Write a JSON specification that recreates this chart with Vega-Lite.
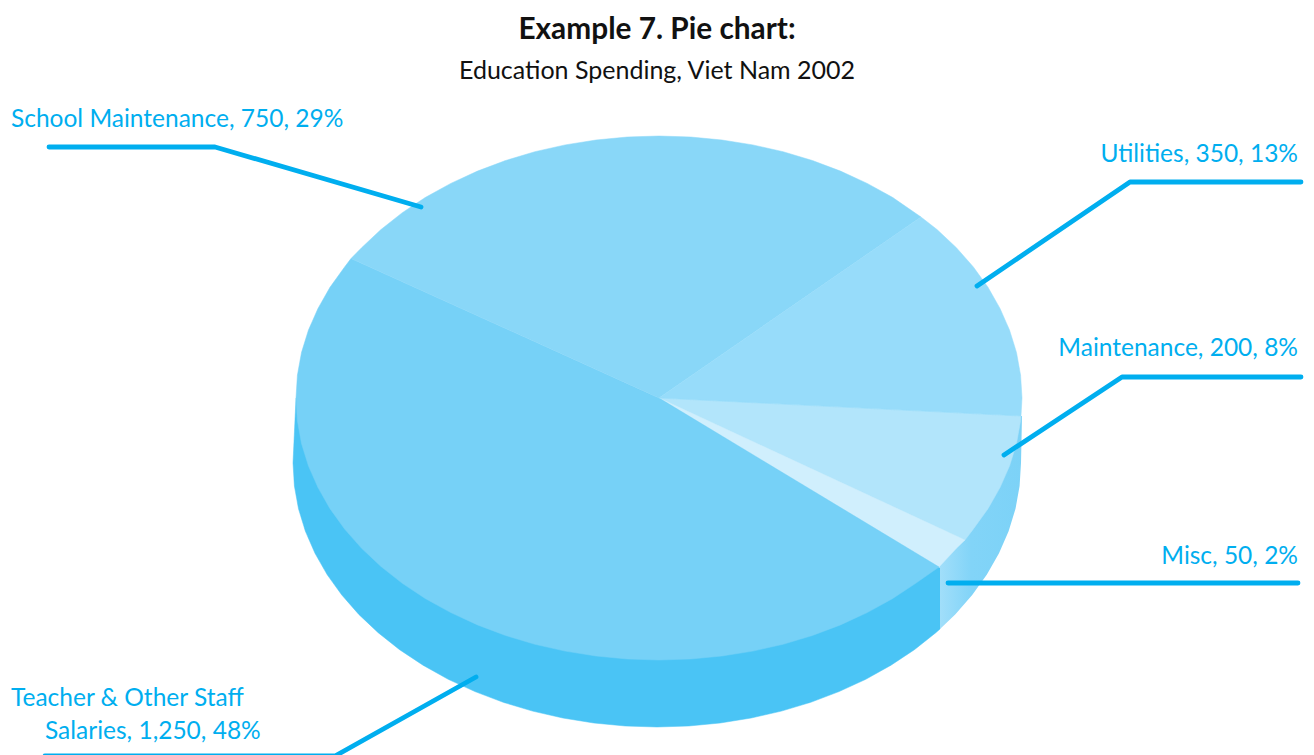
{"$schema":"https://vega.github.io/schema/vega-lite/v6.json","width":1314,"height":755,"padding":0,"autosize":{"type":"none"},"background":"white","view":{"stroke":null},
"title":{"text":"Example 7. Pie chart:","subtitle":"Education Spending, Viet Nam 2002","font":"Lato","fontSize":29.8,"fontWeight":"bold","color":"#111111","subtitleFont":"Lato","subtitleFontSize":25,"subtitleColor":"#111111","subtitleFontWeight":"normal","subtitlePadding":14,"anchor":"middle","frame":"group","baseline":"top","offset":-84,"dx":0},
"config":{"axis":{"domain":false,"ticks":false,"labels":false,"grid":false,"title":null}},
"datasets":{
"walls":[
{"p":"Salaries wall","s":0,"x":659,"y":398},{"p":"Salaries wall","s":1,"x":296,"y":398},{"p":"Salaries wall","s":2,"x":293,"y":463},{"p":"Salaries wall","s":3,"x":294.4,"y":486},{"p":"Salaries wall","s":4,"x":298.5,"y":508.8},{"p":"Salaries wall","s":5,"x":305.4,"y":531.3},{"p":"Salaries wall","s":6,"x":315,"y":553.3},{"p":"Salaries wall","s":7,"x":327.1,"y":574.6},{"p":"Salaries wall","s":8,"x":341.8,"y":595},{"p":"Salaries wall","s":9,"x":358.8,"y":614.4},{"p":"Salaries wall","s":10,"x":378.2,"y":632.7},{"p":"Salaries wall","s":11,"x":399.6,"y":649.7},{"p":"Salaries wall","s":12,"x":423,"y":665.2},{"p":"Salaries wall","s":13,"x":448.2,"y":679.3},{"p":"Salaries wall","s":14,"x":475,"y":691.6},{"p":"Salaries wall","s":15,"x":503.2,"y":702.3},{"p":"Salaries wall","s":16,"x":532.5,"y":711.1},{"p":"Salaries wall","s":17,"x":562.8,"y":718},{"p":"Salaries wall","s":18,"x":593.8,"y":723},{"p":"Salaries wall","s":19,"x":625.3,"y":726},{"p":"Salaries wall","s":20,"x":657,"y":727},{"p":"Salaries wall","s":21,"x":688.7,"y":726},{"p":"Salaries wall","s":22,"x":720.2,"y":723},{"p":"Salaries wall","s":23,"x":751.2,"y":718},{"p":"Salaries wall","s":24,"x":781.5,"y":711.1},{"p":"Salaries wall","s":25,"x":810.8,"y":702.3},{"p":"Salaries wall","s":26,"x":839,"y":691.6},{"p":"Salaries wall","s":27,"x":865.8,"y":679.3},{"p":"Salaries wall","s":28,"x":891,"y":665.2},{"p":"Salaries wall","s":29,"x":914.4,"y":649.7},{"p":"Salaries wall","s":30,"x":935.8,"y":632.7},{"p":"Salaries wall","s":31,"x":940,"y":629},{"p":"Salaries wall","s":32,"x":940,"y":568}
],
"rightwall":[
{"p":"Right wall","s":0,"x":659,"y":398},{"p":"Right wall","s":1,"x":940,"y":568},{"p":"Right wall","s":2,"x":940,"y":629},{"p":"Right wall","s":3,"x":955.2,"y":614.4},{"p":"Right wall","s":4,"x":972.2,"y":595},{"p":"Right wall","s":5,"x":986.9,"y":574.6},{"p":"Right wall","s":6,"x":999,"y":553.3},{"p":"Right wall","s":7,"x":1008.6,"y":531.3},{"p":"Right wall","s":8,"x":1015.5,"y":508.8},{"p":"Right wall","s":9,"x":1019.6,"y":486},{"p":"Right wall","s":10,"x":1021,"y":463},{"p":"Right wall","s":11,"x":1022,"y":416}
],
"slices":[
{"p":"Maintenance","s":0,"x":659,"y":398},{"p":"Maintenance","s":1,"x":1021,"y":416},{"p":"Maintenance","s":2,"x":1020.6,"y":420.8},{"p":"Maintenance","s":3,"x":1016.5,"y":443.5},{"p":"Maintenance","s":4,"x":1009.6,"y":465.8},{"p":"Maintenance","s":5,"x":1000,"y":487.6},{"p":"Maintenance","s":6,"x":988,"y":508.7},{"p":"Maintenance","s":7,"x":973.4,"y":529},{"p":"Maintenance","s":8,"x":965,"y":540},
{"p":"Misc","s":0,"x":659,"y":398},{"p":"Misc","s":1,"x":965,"y":540},{"p":"Misc","s":2,"x":956.4,"y":548.3},{"p":"Misc","s":3,"x":939,"y":567},
{"p":"Salaries","s":0,"x":659,"y":398},{"p":"Salaries","s":1,"x":939,"y":567},{"p":"Salaries","s":2,"x":915.7,"y":583.3},{"p":"Salaries","s":3,"x":892.4,"y":598.7},{"p":"Salaries","s":4,"x":867.2,"y":612.6},{"p":"Salaries","s":5,"x":840.5,"y":624.9},{"p":"Salaries","s":6,"x":812.4,"y":635.5},{"p":"Salaries","s":7,"x":783.1,"y":644.3},{"p":"Salaries","s":8,"x":752.9,"y":651.1},{"p":"Salaries","s":9,"x":722,"y":656},{"p":"Salaries","s":10,"x":690.7,"y":659},{"p":"Salaries","s":11,"x":659,"y":660},{"p":"Salaries","s":12,"x":627.3,"y":659},{"p":"Salaries","s":13,"x":596,"y":656},{"p":"Salaries","s":14,"x":565.1,"y":651.1},{"p":"Salaries","s":15,"x":534.9,"y":644.3},{"p":"Salaries","s":16,"x":505.6,"y":635.5},{"p":"Salaries","s":17,"x":477.5,"y":624.9},{"p":"Salaries","s":18,"x":450.8,"y":612.6},{"p":"Salaries","s":19,"x":425.6,"y":598.7},{"p":"Salaries","s":20,"x":402.3,"y":583.3},{"p":"Salaries","s":21,"x":381,"y":566.5},{"p":"Salaries","s":22,"x":361.6,"y":548.3},{"p":"Salaries","s":23,"x":344.6,"y":529},{"p":"Salaries","s":24,"x":330,"y":508.7},{"p":"Salaries","s":25,"x":318,"y":487.6},{"p":"Salaries","s":26,"x":308.4,"y":465.8},{"p":"Salaries","s":27,"x":301.5,"y":443.5},{"p":"Salaries","s":28,"x":297.4,"y":420.8},{"p":"Salaries","s":29,"x":296,"y":398},{"p":"Salaries","s":30,"x":297.4,"y":375.2},{"p":"Salaries","s":31,"x":301.5,"y":352.5},{"p":"Salaries","s":32,"x":308.4,"y":330.2},{"p":"Salaries","s":33,"x":318,"y":308.4},{"p":"Salaries","s":34,"x":330,"y":287.3},{"p":"Salaries","s":35,"x":344.6,"y":267},{"p":"Salaries","s":36,"x":351,"y":258.5},
{"p":"School","s":0,"x":659,"y":398},{"p":"School","s":1,"x":351,"y":258.5},{"p":"School","s":2,"x":361.6,"y":247.7},{"p":"School","s":3,"x":381,"y":229.5},{"p":"School","s":4,"x":402.3,"y":212.7},{"p":"School","s":5,"x":425.6,"y":197.3},{"p":"School","s":6,"x":450.8,"y":183.4},{"p":"School","s":7,"x":477.5,"y":171.1},{"p":"School","s":8,"x":505.6,"y":160.5},{"p":"School","s":9,"x":534.9,"y":151.7},{"p":"School","s":10,"x":565.1,"y":144.9},{"p":"School","s":11,"x":596,"y":140},{"p":"School","s":12,"x":627.3,"y":137},{"p":"School","s":13,"x":659,"y":136},{"p":"School","s":14,"x":690.7,"y":137},{"p":"School","s":15,"x":722,"y":140},{"p":"School","s":16,"x":752.9,"y":144.9},{"p":"School","s":17,"x":783.1,"y":151.7},{"p":"School","s":18,"x":812.4,"y":160.5},{"p":"School","s":19,"x":840.5,"y":171.1},{"p":"School","s":20,"x":867.2,"y":183.4},{"p":"School","s":21,"x":892.4,"y":197.3},{"p":"School","s":22,"x":921,"y":217},
{"p":"Utilities","s":0,"x":659,"y":398},{"p":"Utilities","s":1,"x":921,"y":217},{"p":"Utilities","s":2,"x":937,"y":229.5},{"p":"Utilities","s":3,"x":956.4,"y":247.7},{"p":"Utilities","s":4,"x":973.4,"y":267},{"p":"Utilities","s":5,"x":988,"y":287.3},{"p":"Utilities","s":6,"x":1000,"y":308.4},{"p":"Utilities","s":7,"x":1009.6,"y":330.2},{"p":"Utilities","s":8,"x":1016.5,"y":352.5},{"p":"Utilities","s":9,"x":1020.6,"y":375.2},{"p":"Utilities","s":10,"x":1022,"y":398},{"p":"Utilities","s":11,"x":1021,"y":416}
],
"leaders":[
{"c":"School","s":0,"x":49,"y":147},{"c":"School","s":1,"x":215,"y":147},{"c":"School","s":2,"x":421,"y":207},
{"c":"Utilities","s":0,"x":1301,"y":182},{"c":"Utilities","s":1,"x":1130,"y":182},{"c":"Utilities","s":2,"x":977,"y":286},
{"c":"Maintenance","s":0,"x":1301,"y":377},{"c":"Maintenance","s":1,"x":1122,"y":377},{"c":"Maintenance","s":2,"x":1004,"y":455},
{"c":"Misc","s":0,"x":1298,"y":583},{"c":"Misc","s":1,"x":948,"y":583},
{"c":"Salaries","s":0,"x":45,"y":756},{"c":"Salaries","s":1,"x":335,"y":756},{"c":"Salaries","s":2,"x":476,"y":677}
],
"labels":[
{"t":"School Maintenance, 750, 29%","x":11,"y":127,"a":"left"},
{"t":"Utilities, 350, 13%","x":1298,"y":162,"a":"right"},
{"t":"Maintenance, 200, 8%","x":1298,"y":356,"a":"right"},
{"t":"Misc, 50, 2%","x":1298,"y":564,"a":"right"},
{"t":"Teacher & Other Staff","x":11,"y":706,"a":"left"},
{"t":"Salaries, 1,250, 48%","x":45,"y":739,"a":"left"}
]},
"layer":[
{"data":{"name":"walls"},"mark":{"type":"line","interpolate":"linear-closed","strokeWidth":0.5},
"encoding":{"x":{"field":"x","type":"quantitative","scale":{"domain":[0,1314],"nice":false,"zero":false},"axis":null},"y":{"field":"y","type":"quantitative","scale":{"domain":[755,0],"nice":false,"zero":false},"axis":null},"order":{"field":"s","type":"quantitative"},
"fill":{"field":"p","type":"nominal","legend":null,"scale":{"domain":["Salaries wall","Maintenance","Misc","Salaries","School","Utilities"],"range":["#4AC4F5","#B2E5FB","#D0EFFD","#76D1F7","#89D7F8","#97DCFA"]}},
"stroke":{"field":"p","type":"nominal","legend":null,"scale":{"domain":["Salaries wall","Maintenance","Misc","Salaries","School","Utilities"],"range":["#4AC4F5","#B2E5FB","#D0EFFD","#76D1F7","#89D7F8","#97DCFA"]}}}},
{"data":{"name":"rightwall"},"mark":{"type":"line","interpolate":"linear-closed","strokeWidth":0,"fill":{"gradient":"linear","x1":0,"y1":0,"x2":1,"y2":0,"stops":[{"offset":0.76,"color":"#A6E0FA"},{"offset":0.86,"color":"#82D4F8"},{"offset":1,"color":"#7CD2F7"}]}},
"encoding":{"x":{"field":"x","type":"quantitative"},"y":{"field":"y","type":"quantitative"},"order":{"field":"s","type":"quantitative"}}},
{"data":{"name":"slices"},"mark":{"type":"line","interpolate":"linear-closed","strokeWidth":0.5},
"encoding":{"x":{"field":"x","type":"quantitative"},"y":{"field":"y","type":"quantitative"},"order":{"field":"s","type":"quantitative"},
"fill":{"field":"p","type":"nominal","legend":null},"stroke":{"field":"p","type":"nominal","legend":null}}},
{"data":{"name":"leaders"},"mark":{"type":"line","color":"#00AEEF","strokeWidth":4.8,"strokeCap":"round","strokeJoin":"round"},
"encoding":{"x":{"field":"x","type":"quantitative"},"y":{"field":"y","type":"quantitative"},"order":{"field":"s","type":"quantitative"},"detail":{"field":"c"}}},
{"data":{"name":"labels"},"transform":[{"filter":"datum.a=='left'"}],"mark":{"type":"text","align":"left","baseline":"alphabetic","font":"Lato","fontSize":24.5,"color":"#00AEEF"},
"encoding":{"x":{"field":"x","type":"quantitative"},"y":{"field":"y","type":"quantitative"},"text":{"field":"t"}}},
{"data":{"name":"labels"},"transform":[{"filter":"datum.a=='right'"}],"mark":{"type":"text","align":"right","baseline":"alphabetic","font":"Lato","fontSize":24.5,"color":"#00AEEF"},
"encoding":{"x":{"field":"x","type":"quantitative"},"y":{"field":"y","type":"quantitative"},"text":{"field":"t"}}}
],
"resolve":{"scale":{"x":"shared","y":"shared"}}}
